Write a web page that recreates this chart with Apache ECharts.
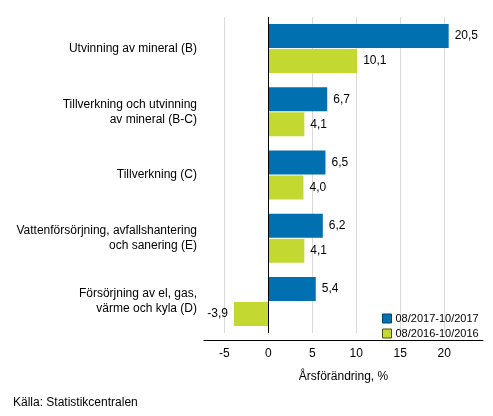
<!DOCTYPE html>
<html>
<head>
<meta charset="utf-8">
<script src="https://cdn.jsdelivr.net/npm/echarts@6/dist/echarts.min.js"></script>
<style>
  html, body { margin: 0; padding: 0; background: #fff; }
  #main { width: 493px; height: 416px; }
</style>
</head>
<body>
<div id="main"></div>
<script>
var categories = [
    'Utvinning av mineral (B)',
    'Tillverkning och utvinning\nav mineral (B-C)',
    'Tillverkning (C)',
    'Vattenförsörjning, avfallshantering\noch sanering (E)',
    'Försörjning av el, gas,\nvärme och kyla (D)'
];
var period2017 = [20.5, 6.7, 6.5, 6.2, 5.4];
var period2016 = [10.1, 4.1, 4.0, 4.1, -3.9];
var xTicks = [-5, 0, 5, 10, 15, 20];

var font = 'Arial, "Liberation Sans", sans-serif';

function barItems(values) {
    return values.map(function (v) {
        return {
            value: v,
            label: { position: v < 0 ? 'left' : 'right' }
        };
    });
}

var myChart = echarts.init(document.getElementById('main'));

var barLabel = {
    show: true,
    distance: 6,
    color: '#000',
    fontSize: 12,
    fontFamily: font,
    formatter: function (p) {
        return String(p.value).replace('.', ',').replace(/^(-?\d+)$/, '$1,0');
    }
};

var option = {
    animation: false,
    textStyle: { fontFamily: font },
    grid: {
        left: 204,
        right: 10,
        top: 17,
        height: 316
    },
    legend: {
        orient: 'vertical',
        left: 377,
        top: 308,
        itemWidth: 9,
        itemHeight: 9,
        itemGap: 4,
        icon: 'rect',
        textStyle: { fontSize: 11, color: '#000', fontFamily: font, padding: [0, 0, 0, -1] },
        data: [
            { name: '08/2017-10/2017', itemStyle: { borderColor: '#00456c', borderWidth: 1 } },
            { name: '08/2016-10/2016', itemStyle: { borderColor: '#4a5212', borderWidth: 1 } }
        ]
    },
    graphic: [{
        type: 'text',
        left: 13,
        top: 397,
        style: {
            text: 'Källa: Statistikcentralen',
            fontSize: 12,
            fontFamily: font,
            fill: '#000'
        }
    }],
    xAxis: {
        type: 'value',
        min: -7.3,
        max: 24.4,
        offset: 7,
        name: 'Årsförändring, %',
        nameLocation: 'middle',
        nameGap: 31,
        nameTextStyle: { fontSize: 12, color: '#000', fontFamily: font },
        axisLine: { show: true, lineStyle: { color: '#000', width: 1 } },
        axisTick: { show: false, customValues: xTicks },
        axisLabel: {
            customValues: xTicks,
            color: '#000',
            fontSize: 12,
            margin: 8,
            fontFamily: font
        },
        splitLine: { show: true, lineStyle: { color: '#d9d9d9', width: 1 } }
    },
    yAxis: {
        type: 'category',
        inverse: true,
        data: categories,
        axisLine: { show: false, onZero: false },
        axisTick: { show: false },
        splitLine: { show: false },
        axisLabel: {
            color: '#000',
            fontSize: 12,
            lineHeight: 15,
            margin: 7,
            align: 'right',
            fontFamily: font
        }
    },
    series: [
        {
            name: '08/2017-10/2017',
            type: 'bar',
            data: barItems(period2017),
            barWidth: 24,
            barGap: '4%',
            itemStyle: { color: '#0070b0' },
            label: barLabel,
            z: 3
        },
        {
            name: '08/2016-10/2016',
            type: 'bar',
            data: barItems(period2016),
            barWidth: 24,
            barGap: '4%',
            itemStyle: { color: '#c3d830' },
            label: barLabel,
            z: 3,
            markLine: {
                silent: true,
                symbol: 'none',
                label: { show: false },
                lineStyle: { color: '#000', width: 1, type: 'solid' },
                data: [{ xAxis: 0 }],
                z: 4
            }
        }
    ]
};

myChart.setOption(option);
</script>
</body>
</html>
